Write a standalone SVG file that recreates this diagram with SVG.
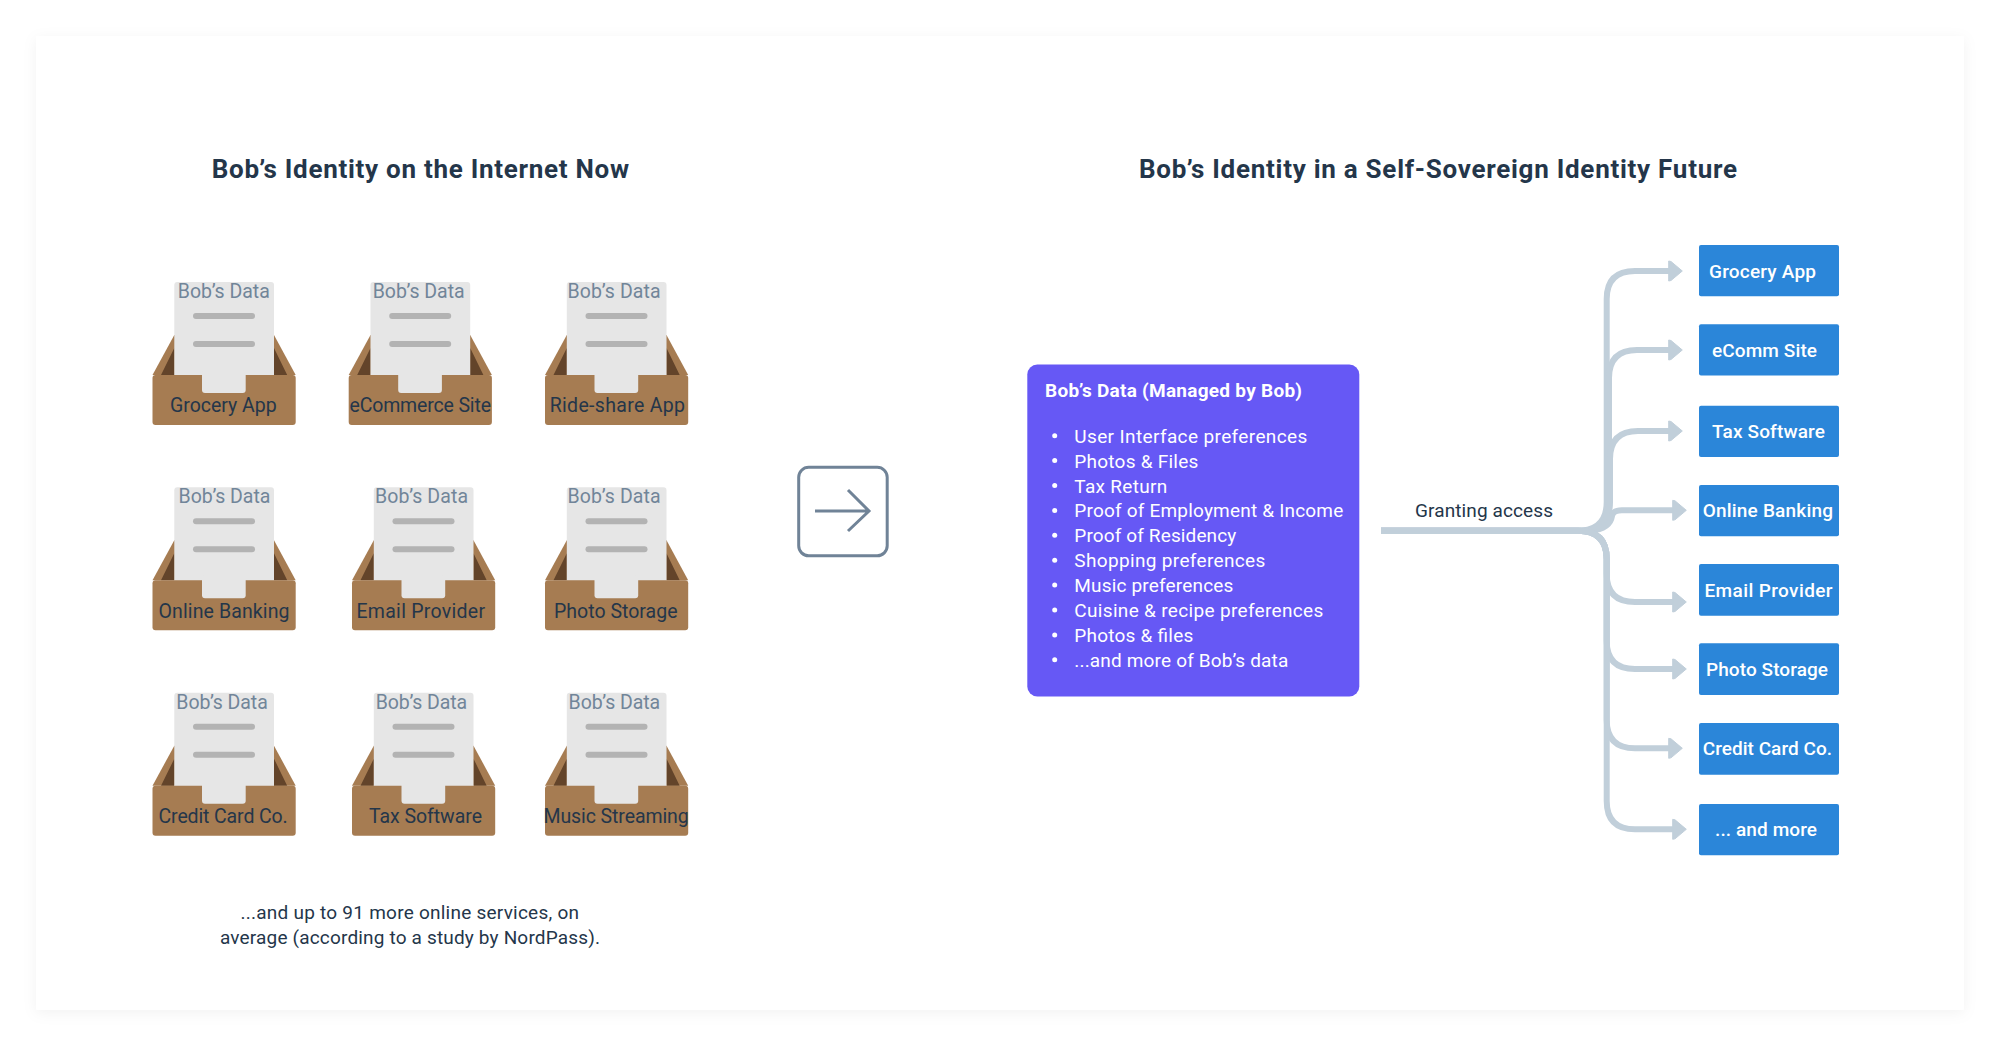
<svg xmlns="http://www.w3.org/2000/svg" width="2000" height="1046" viewBox="0 0 2000 1046">
<style>
text{font-family:"Roboto","Liberation Sans",sans-serif;}
.title{font-size:26px;font-weight:700;fill:#24364a;}
.data{font-size:19.5px;fill:#718599;}
.lbl{font-size:19.5px;fill:#24364a;}
.note{font-size:19px;fill:#24364a;}
.btn{fill:#2b86d9;}
.btxt{font-size:19px;font-weight:500;fill:#fff;}
.li{font-size:19px;fill:#fff;}
.conn{fill:none;stroke:#c1cfda;stroke-width:6;marker-end:url(#head);}
</style>
<defs>
<filter id="sh" x="-5%" y="-5%" width="110%" height="110%"><feDropShadow dx="0" dy="3" stdDeviation="7" flood-color="#000" flood-opacity="0.05"/></filter>
<marker id="head" markerUnits="userSpaceOnUse" viewBox="0 0 15 22" markerWidth="15" markerHeight="22" refX="7" refY="11" orient="auto"><path d="M0.7 1L3 1.5L14.3 11L3 20.5L0.7 21Z" fill="#c1cfda" stroke="#c1cfda" stroke-width="1" stroke-linejoin="round"/></marker>
<g id="inbox">
<path d="M0 93L21.8 53H121.5L143.2 93Z" fill="#a67c52"/>
<path d="M8.5 93L21.8 66V93ZM121.5 66L134.7 93H121.5Z" fill="#63442a"/>
<rect x="21.8" y="0" width="99.7" height="100" rx="3" fill="#e6e6e6"/>
<rect x="0" y="93" width="143.2" height="50" rx="3" fill="#a67c52"/>
<rect x="49.5" y="88" width="43.7" height="23" rx="3" fill="#e6e6e6"/>
<rect x="40.5" y="31" width="62" height="6" rx="3" fill="#b3b3b3"/>
<rect x="40.5" y="59" width="62" height="6" rx="3" fill="#b3b3b3"/>
</g>
</defs>
<rect width="2000" height="1046" fill="#fff"/>
<rect id="card" x="36" y="36" width="1928" height="974" rx="2" fill="#fff" filter="url(#sh)"/>
<text class="title" x="211.7" y="178" textLength="417.3">Bob’s Identity on the Internet Now</text>
<text class="title" x="1139" y="178" textLength="598">Bob’s Identity in a Self-Sovereign Identity Future</text>

<g id="inbox-grocery"><use href="#inbox" x="152.5" y="282"/><text class="data" x="177.8" y="297.7" textLength="92">Bob’s Data</text><text class="lbl" x="170" y="412" textLength="106.7">Grocery App</text></g>
<g id="inbox-ecommerce"><use href="#inbox" x="348.7" y="282"/><text class="data" x="372.7" y="297.7" textLength="92">Bob’s Data</text><text class="lbl" x="349.5" y="412" textLength="141.5">eCommerce Site</text></g>
<g id="inbox-rideshare"><use href="#inbox" x="545" y="282"/><text class="data" x="567.6" y="297.7" textLength="93">Bob’s Data</text><text class="lbl" x="549.7" y="412" textLength="135.3">Ride-share App</text></g>
<g id="inbox-banking"><use href="#inbox" x="152.5" y="487.3"/><text class="data" x="178.6" y="503.4" textLength="91.8">Bob’s Data</text><text class="lbl" x="158.5" y="617.6" textLength="131">Online Banking</text></g>
<g id="inbox-email"><use href="#inbox" x="352" y="487.3"/><text class="data" x="375" y="503.4" textLength="93">Bob’s Data</text><text class="lbl" x="356.5" y="617.6" textLength="128.5">Email Provider</text></g>
<g id="inbox-photo"><use href="#inbox" x="545" y="487.3"/><text class="data" x="567.6" y="503.4" textLength="93">Bob’s Data</text><text class="lbl" x="554" y="617.6" textLength="123.5">Photo Storage</text></g>
<g id="inbox-credit"><use href="#inbox" x="152.5" y="692.7"/><text class="data" x="176.3" y="708.9" textLength="91.5">Bob’s Data</text><text class="lbl" x="158.5" y="823" textLength="129.2">Credit Card Co.</text></g>
<g id="inbox-tax"><use href="#inbox" x="352" y="692.7"/><text class="data" x="375.7" y="708.9" textLength="91.5">Bob’s Data</text><text class="lbl" x="369" y="823" textLength="113">Tax Software</text></g>
<g id="inbox-music"><use href="#inbox" x="545" y="692.7"/><text class="data" x="568.6" y="708.9" textLength="91.5">Bob’s Data</text><text class="lbl" x="543.5" y="823" textLength="145.2">Music Streaming</text></g>

<text class="note" x="240.5" y="919" textLength="338.5">...and up to 91 more online services, on</text>
<text class="note" x="220" y="943.6" textLength="380">average (according to a study by NordPass).</text>

<g id="transition">
<rect x="798.7" y="467.3" width="88.5" height="88.5" rx="10" fill="none" stroke="#708397" stroke-width="3"/>
<path d="M815 511H868M848 490L869 511L848 531" fill="none" stroke="#708397" stroke-width="3"/>
</g>

<g id="data-store">
<rect x="1027.3" y="364.5" width="332" height="332" rx="10" fill="#6658f5"/>
<text x="1045" y="397.4" font-size="19" font-weight="700" fill="#fff" textLength="257">Bob’s Data (Managed by Bob)</text>
<g fill="#fff">
<circle cx="1054.7" cy="435.7" r="2.5"/><circle cx="1054.7" cy="460.6" r="2.5"/><circle cx="1054.7" cy="485.5" r="2.5"/><circle cx="1054.7" cy="510.4" r="2.5"/><circle cx="1054.7" cy="535.3" r="2.5"/><circle cx="1054.7" cy="560.2" r="2.5"/><circle cx="1054.7" cy="585.1" r="2.5"/><circle cx="1054.7" cy="610" r="2.5"/><circle cx="1054.7" cy="634.9" r="2.5"/><circle cx="1054.7" cy="659.8" r="2.5"/>
</g>
<text class="li" x="1074.3" y="442.7" textLength="233">User Interface preferences</text>
<text class="li" x="1074.3" y="467.6" textLength="124">Photos &amp; Files</text>
<text class="li" x="1074.3" y="492.5" textLength="93">Tax Return</text>
<text class="li" x="1074.3" y="517.4" textLength="269">Proof of Employment &amp; Income</text>
<text class="li" x="1074.3" y="542.3" textLength="162">Proof of Residency</text>
<text class="li" x="1074.3" y="567.2" textLength="191">Shopping preferences</text>
<text class="li" x="1074.3" y="592.1" textLength="159">Music preferences</text>
<text class="li" x="1074.3" y="617" textLength="249">Cuisine &amp; recipe preferences</text>
<text class="li" x="1074.3" y="641.9" textLength="119">Photos &amp; files</text>
<text class="li" x="1074.3" y="666.8" textLength="214">...and more of Bob’s data</text>
</g>

<g id="connectors">
<path class="conn" d="M1381 530.7H1578Q1606.7 530.7 1606.7 502V299Q1606.7 271 1635 271H1675"/>
<path class="conn" d="M1381 530.7H1580Q1609 530.7 1609 502V378Q1609 350 1637 350H1675"/>
<path class="conn" d="M1381 530.7H1580Q1610 530.7 1610 502V459Q1610 431 1638 431H1675"/>
<path class="conn" d="M1381 530.7H1590Q1610 529 1612 516Q1613 510.3 1622 510.3H1679"/>
<path class="conn" d="M1381 530.7H1578Q1606.7 530.7 1606.7 559V574Q1606.7 602 1635 602H1679"/>
<path class="conn" d="M1381 530.7H1578Q1606.7 530.7 1606.7 559V641Q1606.7 669 1635 669H1679"/>
<path class="conn" d="M1381 530.7H1578Q1606.7 530.7 1606.7 559V720Q1606.7 748.3 1635 748.3H1675"/>
<path class="conn" d="M1381 530.7H1578Q1606.7 530.7 1606.7 559V801Q1606.7 829.3 1635 829.3H1679"/>
<text x="1415" y="517.3" font-size="19" fill="#24364a" textLength="138">Granting access</text>
</g>

<g id="svc-grocery"><rect class="btn" x="1699" y="245" width="140" height="51.3" rx="2"/><text class="btxt" x="1709" y="277.7" textLength="107">Grocery App</text></g>
<g id="svc-ecomm"><rect class="btn" x="1699" y="324.3" width="140" height="51.3" rx="2"/><text class="btxt" x="1712" y="357" textLength="105">eComm Site</text></g>
<g id="svc-tax"><rect class="btn" x="1699" y="405.7" width="140" height="51.3" rx="2"/><text class="btxt" x="1712" y="438" textLength="113">Tax Software</text></g>
<g id="svc-banking"><rect class="btn" x="1699" y="485" width="140" height="51.3" rx="2"/><text class="btxt" x="1702.7" y="516.7" textLength="130.3">Online Banking</text></g>
<g id="svc-email"><rect class="btn" x="1699" y="564" width="140" height="51.7" rx="2"/><text class="btxt" x="1704.5" y="596.7" textLength="128">Email Provider</text></g>
<g id="svc-photo"><rect class="btn" x="1699" y="643.3" width="140" height="51.7" rx="2"/><text class="btxt" x="1706" y="676" textLength="122">Photo Storage</text></g>
<g id="svc-credit"><rect class="btn" x="1699" y="723" width="140" height="51.7" rx="2"/><text class="btxt" x="1702.7" y="755.4" textLength="129.3">Credit Card Co.</text></g>
<g id="svc-more"><rect class="btn" x="1699" y="804" width="140" height="51.3" rx="2"/><text class="btxt" x="1715" y="836.4" textLength="102">... and more</text></g>
</svg>
